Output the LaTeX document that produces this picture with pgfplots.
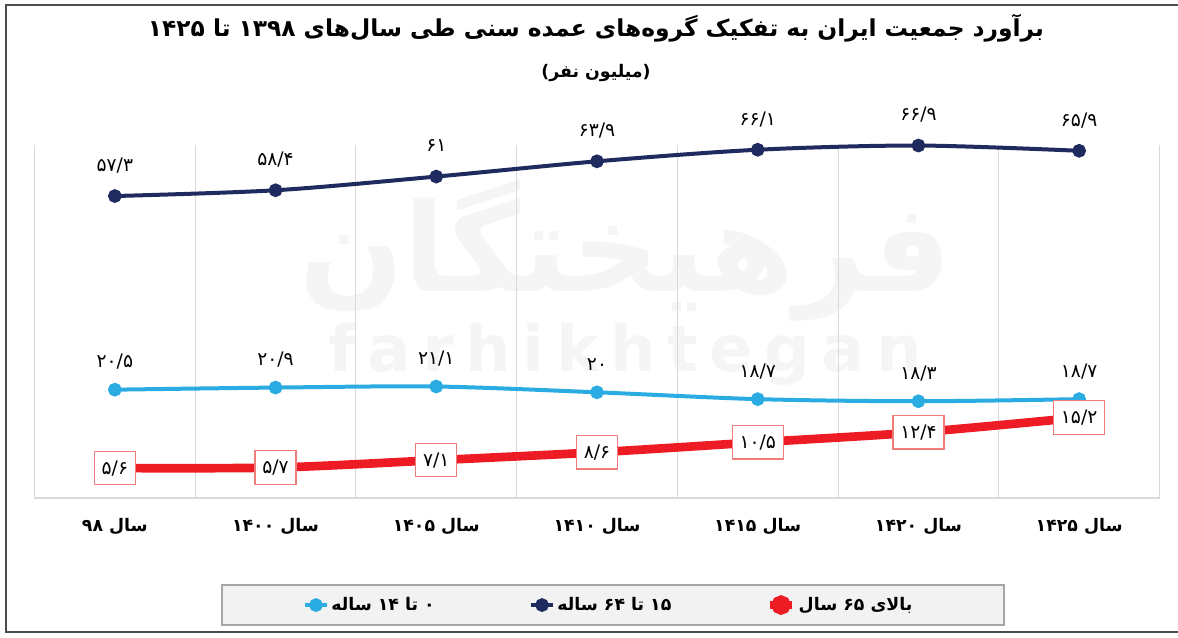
\documentclass[border=0pt]{standalone}
\usepackage{fontspec}
\usepackage{pgfplots}
\usepackage{pgfplotstable}
\pgfplotsset{compat=1.18}
\TeXXeTstate=1
\newfontfamily\fa[Script=Arabic]{DejaVu Sans}
\newfontfamily\wm[LetterSpace=18]{DejaVu Sans}
\newcommand\rtl[1]{{\fa\beginR #1\endR}}
\definecolor{navy}{HTML}{1F2A5E}
\definecolor{lblue}{HTML}{2AACE2}
\definecolor{cred}{HTML}{ED1C24}
\definecolor{boxred}{HTML}{F07C7C}
\definecolor{gridc}{HTML}{D9D9D9}

\pgfplotstableread{
x y l
0 20.5 ۲۰/۵
1 20.9 ۲۰/۹
2 21.1 ۲۱/۱
3 20.0 ۲۰
4 18.7 ۱۸/۷
5 18.3 ۱۸/۳
6 18.7 ۱۸/۷
}\kids
\pgfplotstableread{
x y l
0 57.3 ۵۷/۳
1 58.4 ۵۸/۴
2 61.0 ۶۱
3 63.9 ۶۳/۹
4 66.1 ۶۶/۱
5 66.9 ۶۶/۹
6 65.9 ۶۵/۹
}\adults
\pgfplotstableread{
x y l
0 5.6 ۵/۶
1 5.7 ۵/۷
2 7.1 ۷/۱
3 8.6 ۸/۶
4 10.5 ۱۰/۵
5 12.4 ۱۲/۴
6 15.2 ۱۵/۲
}\elder

\begin{document}
\begin{tikzpicture}
\path[use as bounding box] (0,0) rectangle (883.5pt,477.75pt);
\draw[black!70, line width=0.8pt] (883.5pt,474pt) -- (4.5pt,474pt) -- (4.5pt,3.75pt) -- (883.5pt,3.75pt);
\node[font=\fa\bfseries\fontsize{17.5}{21}\selectfont] at (447pt,456.75pt) {\beginR برآورد جمعیت ایران به تفکیک گروه‌های عمده سنی طی سال‌های ۱۳۹۸ تا ۱۴۲۵\endR};
\node[font=\fa\bfseries\fontsize{13}{15}\selectfont] at (447pt,423pt) {)\beginR میلیون نفر\endR(};
% faint watermark
\node[text=black!4, font=\fa\bfseries\fontsize{92}{100}\selectfont] at (469pt,290pt) {\beginR فرهیختگان\endR};
\node[text=black!4, font=\wm\bfseries\fontsize{48}{52}\selectfont] at (469pt,212pt) {farhikhtegan};
\filldraw[fill=black!5, draw=black!35, line width=0.8pt] (166.5pt,9pt) rectangle (753pt,39pt);
\begin{axis}[
  at={(25.875pt,104.6pt)}, anchor=south west,
  scale only axis, width=843.75pt, height=264.4pt,
  xmin=-0.5, xmax=6.5, ymin=0, ymax=67,
  clip=false,
  axis y line=none, axis x line*=bottom,
  x axis line style={draw=gridc, line width=1.5pt, -},
  xtick={0,...,6},
  xticklabels={\rtl{سال ۹۸},\rtl{سال ۱۴۰۰},\rtl{سال ۱۴۰۵},\rtl{سال ۱۴۱۰},\rtl{سال ۱۴۱۵},\rtl{سال ۱۴۲۰},\rtl{سال ۱۴۲۵}},
  major tick length=0pt, minor tick length=0pt,
  minor xtick={-0.5,0.5,...,6.5},
  xminorgrids,
  minor grid style={draw=gridc, line width=0.8pt},
  ytick=\empty,
  xticklabel style={font=\fa\bfseries\fontsize{13}{15}\selectfont, anchor=center, yshift=-22pt},
  legend style={at={(0.2387,-0.305)}, anchor=west, draw=none, fill=none,
    legend columns=-1, font=\fa\bfseries\fontsize{13}{15}\selectfont,
    /tikz/every even column/.append style={column sep=69pt}, inner sep=0pt},
  legend image code/.code={\draw[mark repeat=2,mark phase=2,#1] plot coordinates {(0pt,0pt) (8pt,0pt) (16pt,0pt)};},
  point meta=explicit symbolic,
  nodes near coords={\fa\pgfplotspointmeta},
]
\addplot[smooth, tension=0.5, color=lblue, line width=3pt, mark=*, mark size=3.6pt,
  every node near coord/.append style={anchor=center, yshift=21pt, text=black, font=\fa\fontsize{14}{16}\selectfont}]
  table[x=x, y=y, meta=l] {\kids};
\addlegendentry{\rtl{۰ تا ۱۴ ساله}}
\addplot[smooth, tension=0.5, color=navy, line width=3pt, mark=*, mark size=3.6pt,
  every node near coord/.append style={anchor=center, yshift=23pt, text=black, font=\fa\fontsize{14}{16}\selectfont}]
  table[x=x, y=y, meta=l] {\adults};
\addlegendentry{\rtl{۱۵ تا ۶۴ ساله}}
\addplot[smooth, tension=0.5, color=cred, line width=6.5pt, mark=*, mark size=4pt,
  every node near coord/.append style={anchor=center, text=black, fill=white, draw=boxred, line width=0.9pt,
    minimum height=25pt, inner xsep=5.5pt, font=\fa\fontsize{14}{16}\selectfont}]
  table[x=x, y=y, meta=l] {\elder};
\addlegendentry{\rtl{بالای ۶۵ سال}}
\end{axis}
\end{tikzpicture}
\end{document}
